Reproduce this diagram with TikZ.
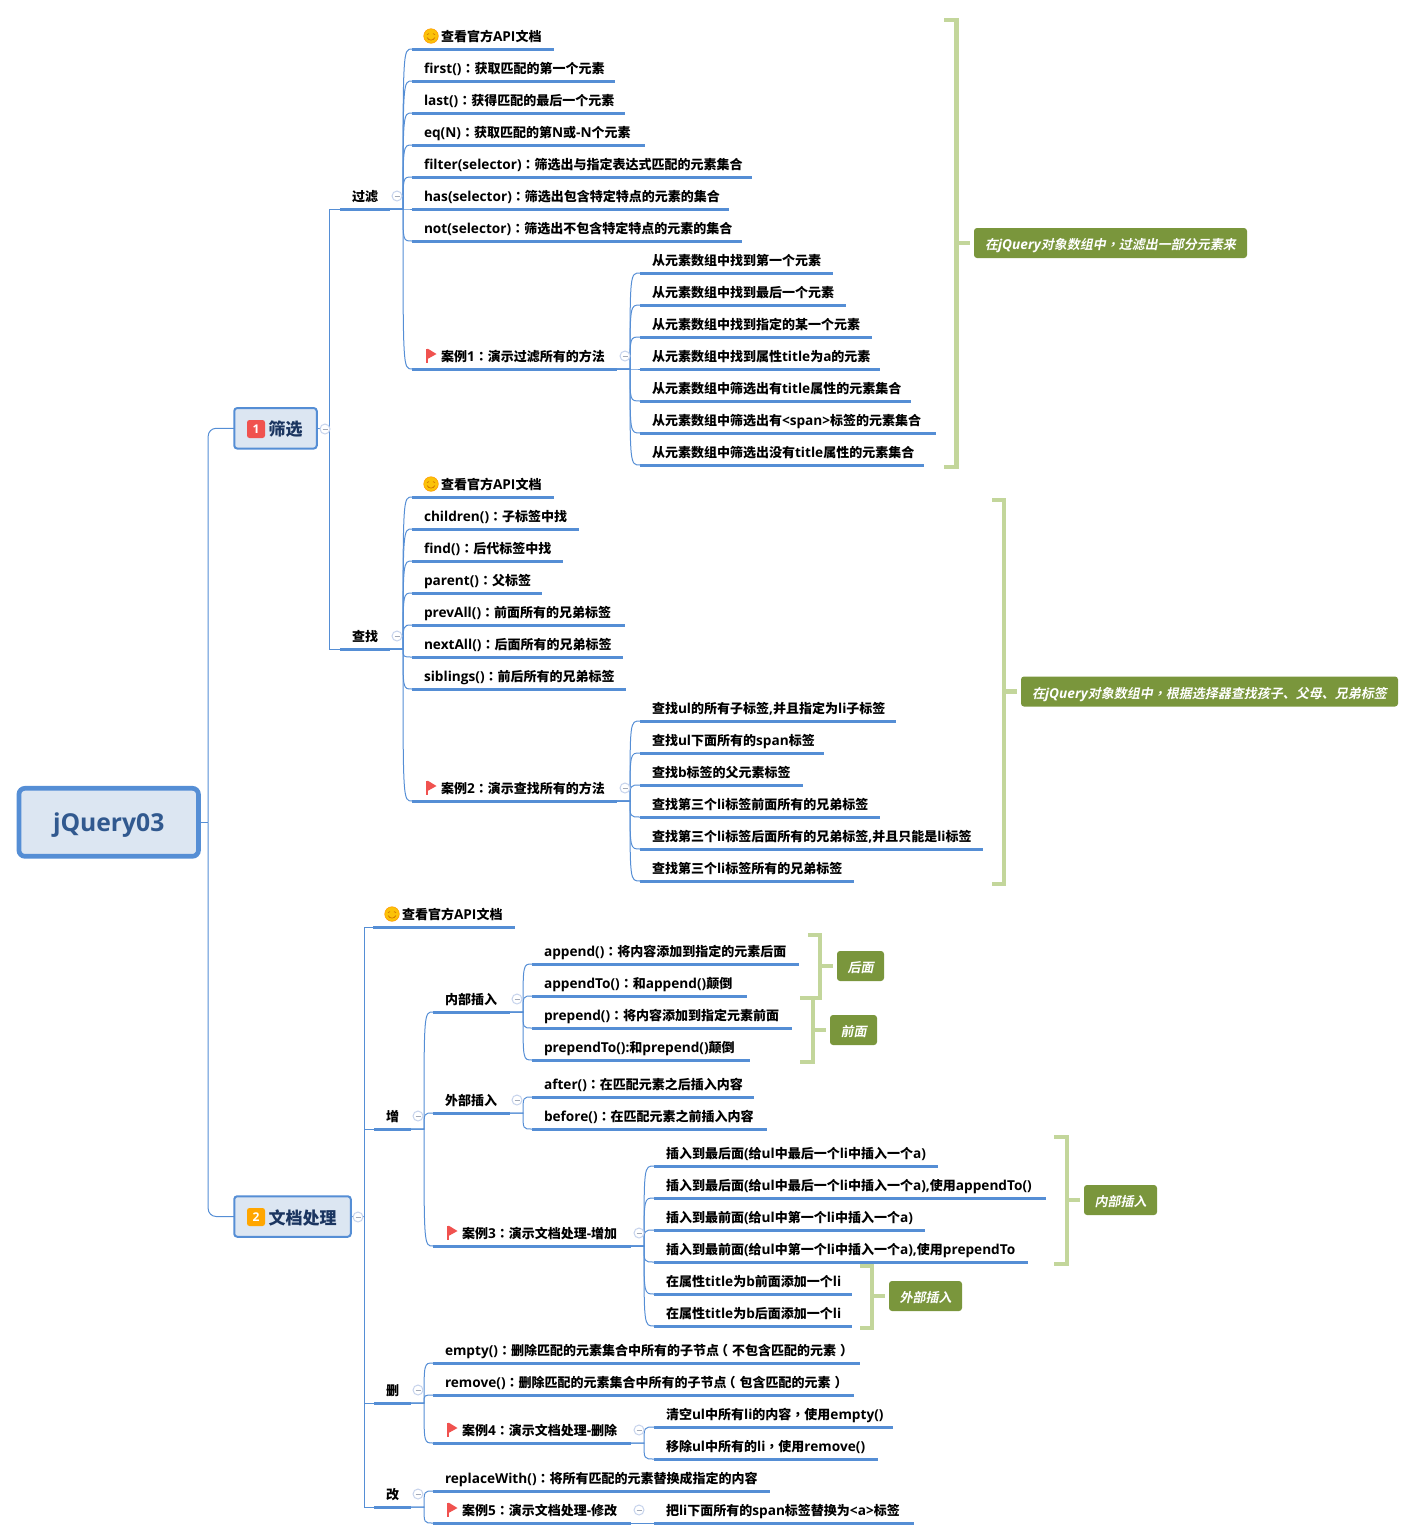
\documentclass[tikz,border=0pt]{standalone}
\usepackage{fontspec}
\setmainfont[Scale=1.05]{Open Sans}
\newfontfamily\cjkfont[ItalicFont={Noto Sans CJK SC},ItalicFeatures={FakeSlant=0.2},
  BoldItalicFont={Noto Sans CJK SC Bold},BoldItalicFeatures={FakeSlant=0.2}]{Noto Sans CJK SC}
\newfontfamily\cjkpunct[ItalicFont={Noto Sans CJK TC},ItalicFeatures={FakeSlant=0.2},
  BoldItalicFont={Noto Sans CJK TC Bold},BoldItalicFeatures={FakeSlant=0.2}]{Noto Sans CJK TC}
% han characters go to the cjk family, full width marks to cjkpunct, the rest stays latin
\XeTeXinterchartokenstate=1
\chardef\cjkclass=20
\chardef\punctclass=21
\newcount\cjkpos
\newcommand{\cjkrange}[3]{\cjkpos=#1\relax
  \loop\XeTeXcharclass\cjkpos=#3\relax
  \ifnum\cjkpos<#2\relax\advance\cjkpos by 1\repeat}
\cjkrange{"3000}{"303F}{\cjkclass}
\cjkrange{"4E00}{"9FFF}{\cjkclass}
\cjkrange{"FF00}{"FFEF}{\punctclass}
\XeTeXinterchartoks 0 \cjkclass={\cjkfont}
\XeTeXinterchartoks 4095 \cjkclass={\cjkfont}
\XeTeXinterchartoks \cjkclass 0={\rmfamily}
\XeTeXinterchartoks 0 \punctclass={\cjkpunct}
\XeTeXinterchartoks \punctclass 0={\rmfamily}
\XeTeXinterchartoks \cjkclass \punctclass={\cjkpunct}
\XeTeXinterchartoks \punctclass \cjkclass={\cjkfont}
\newcommand{\pad}{\hspace*{17pt}}
\newcommand{\lpar}{\kern-4pt（\kern4pt}
\newcommand{\rpar}{\kern4pt）}
\definecolor{linkblue}{HTML}{558ED5}
\definecolor{paleblue}{HTML}{DCE6F2}
\definecolor{foldblue}{HTML}{C6D3EC}
\definecolor{leafgreen}{HTML}{C3D69B}
\definecolor{notegreen}{HTML}{7A963C}
\definecolor{flagred}{HTML}{F0524F}
\definecolor{rootink}{HTML}{31598F}
\definecolor{subink}{HTML}{1B3560}
\tikzset{
  conn/.style={draw=linkblue,line width=1pt},
  stem/.style={draw=linkblue,line width=3pt},
  fork/.style={to path={-- ++(13,0) coordinate (g) .. controls (g|-\tikztotarget) .. (\tikztotarget)}},
  trunk/.style={to path={-- ++(#1,0) |- (\tikztotarget)}},
  topic/.style={anchor=south west,outer sep=0pt,inner xsep=12pt,inner ysep=6.5pt,
    text width=#1pt-24pt,text height=12pt,text depth=1pt,
    font=\bfseries\fontsize{13}{15}\selectfont,
    append after command={(\tikzlastnode.south west) edge[stem] (\tikzlastnode.south east)}},
  sub/.style={draw=linkblue,line width=2pt,fill=paleblue,rounded corners=3pt,outer sep=0pt,
    minimum height=40.5pt,text=subink,text height=15pt,text depth=0pt,
    font=\bfseries\fontsize{17}{19}\selectfont},
  rootbox/.style={draw=linkblue,line width=4.7pt,fill=paleblue,rounded corners=6pt,outer sep=0pt,
    minimum width=179.5pt,minimum height=68pt,text=rootink,text height=18pt,text depth=0pt,
    font=\bfseries\fontsize{23.5}{28}\selectfont},
  badge/.style={rounded corners=2.5pt,minimum size=18pt,inner sep=0pt,text=white,
    font=\bfseries\fontsize{11.5}{14}\selectfont},
  fold/.style={circle,draw=foldblue,fill=white,line width=1pt,minimum size=10pt,inner sep=0pt,
    path picture={\draw[foldblue!70!black!80!white,line width=.8pt] (-2.5,0) -- (2.5,0);}},
  note/.style={fill=notegreen,rounded corners=3pt,minimum height=30pt,text=white,inner sep=0pt,
    text height=13pt,text depth=0pt,font=\bfseries\itshape\fontsize{13}{15}\selectfont},
  brace/.style={draw=leafgreen,line width=4.5pt},
  flagicon/.pic={
    \fill[flagred] (-5.5,-7.5) rectangle (-3.5,7);
    \fill[flagred] (-3.5,-7.5) -- (5.5,-2) -- (-3.5,3) -- cycle;},
  smileicon/.pic={
    \fill[yellow!55!orange,draw=orange!85!yellow,line width=.5pt] (0,0) circle (7.3);
    \draw[orange!80!black,line width=.6pt] (-4,-1.5) -- (-2,-2.3) (2,-2.3) -- (4,-1.5)
      (-4,1.5) .. controls (-2,5) and (2,5) .. (4,1.5);}
}
\begin{document}
\begin{tikzpicture}[x=1pt,y=-1pt]
   \useasboundingbox (0,0) rectangle (1414,1540);
   \node[rootbox] (root) at (108.7,822.3) {jQuery03};
   \node[sub,minimum width=82.5pt] (sx) at (275.5,428.3) {\hspace*{20pt}筛选};
   \node[sub,minimum width=116.5pt] (wd) at (292.5,1216.5) {\hspace*{20pt}文档处理};
   \node[badge,fill=flagred] (b1) at (256,429) {1};
   \node[badge,fill=orange!70!yellow] (b2) at (256,1217) {2};
   % filter branch
   \node[topic=50] (guolv) at (340,209) {过滤};
   \node[topic=142] (api1) at (412,49) {\pad 查看官方API文档};
   \node[topic=203] (first) at (412,81) {first()：获取匹配的第一个元素};
   \node[topic=213] (last) at (412,113) {last()：获得匹配的最后一个元素};
   \node[topic=233] (eq) at (412,145) {eq(N)：获取匹配的第N或-N个元素};
   \node[topic=340] (filter) at (412,177) {filter(selector)：筛选出与指定表达式匹配的元素集合};
   \node[topic=317] (has) at (412,209) {has(selector)：筛选出包含特定特点的元素的集合};
   \node[topic=330] (not) at (412,241) {not(selector)：筛选出不包含特定特点的元素的集合};
   \node[topic=205] (case1) at (412,369) {\pad 案例1：演示过滤所有的方法};
   \node[topic=193] (c1a) at (640,273) {从元素数组中找到第一个元素};
   \node[topic=206] (c1b) at (640,305) {从元素数组中找到最后一个元素};
   \node[topic=232] (c1c) at (640,337) {从元素数组中找到指定的某一个元素};
   \node[topic=240] (c1d) at (640,369) {从元素数组中找到属性title为a的元素};
   \node[topic=271] (c1e) at (640,401) {从元素数组中筛选出有title属性的元素集合};
   \node[topic=296] (c1f) at (640,433) {从元素数组中筛选出有<span>标签的元素集合};
   \node[topic=284] (c1g) at (640,465) {从元素数组中筛选出没有title属性的元素集合};
   % find branch
   \node[topic=50] (chazhao) at (340,649) {查找};
   \node[topic=142] (api2) at (412,497) {\pad 查看官方API文档};
   \node[topic=167] (children) at (412,529) {children()：子标签中找};
   \node[topic=151] (find) at (412,561) {find()：后代标签中找};
   \node[topic=130] (parent) at (412,593) {parent()：父标签};
   \node[topic=213] (prevall) at (412,625) {prevAll()：前面所有的兄弟标签};
   \node[topic=211] (nextall) at (412,657) {nextAll()：后面所有的兄弟标签};
   \node[topic=214] (siblings) at (412,689) {siblings()：前后所有的兄弟标签};
   \node[topic=205] (case2) at (412,801) {\pad 案例2：演示查找所有的方法};
   \node[topic=256] (c2a) at (640,721) {查找ul的所有子标签,并且指定为li子标签};
   \node[topic=184] (c2b) at (640,753) {查找ul下面所有的span标签};
   \node[topic=163] (c2c) at (640,785) {查找b标签的父元素标签};
   \node[topic=240] (c2d) at (640,817) {查找第三个li标签前面所有的兄弟标签};
   \node[topic=343] (c2e) at (640,849) {查找第三个li标签后面所有的兄弟标签,并且只能是li标签};
   \node[topic=214] (c2f) at (640,881) {查找第三个li标签所有的兄弟标签};
   % document branch
   \node[topic=142] (api3) at (373,927) {\pad 查看官方API文档};
   \node[topic=37] (zeng) at (374,1129) {增};
   \node[topic=37] (shan) at (374,1403) {删};
   \node[topic=37] (gai) at (374,1507) {改};
   \node[topic=77] (neibu) at (433,1012) {内部插入};
   \node[topic=77] (waibu) at (433,1113) {外部插入};
   \node[topic=198] (case3) at (433,1246) {\pad 案例3：演示文档处理-增加};
   \node[topic=267] (append) at (532,964) {append()：将内容添加到指定的元素后面};
   \node[topic=215] (appendto) at (532,996) {appendTo()：和append()颠倒};
   \node[topic=260] (prepend) at (532,1028) {prepend()：将内容添加到指定元素前面};
   \node[topic=218] (prependto) at (532,1060) {prependTo():和prepend()颠倒};
   \node[topic=222] (after) at (532,1097) {after()：在匹配元素之后插入内容};
   \node[topic=235] (before) at (532,1129) {before()：在匹配元素之前插入内容};
   \node[topic=284] (c3a) at (654,1166) {插入到最后面(给ul中最后一个li中插入一个a)};
   \node[topic=392] (c3b) at (654,1198) {插入到最后面(给ul中最后一个li中插入一个a),使用appendTo()};
   \node[topic=271] (c3c) at (654,1230) {插入到最前面(给ul中第一个li中插入一个a)};
   \node[topic=374] (c3d) at (654,1262) {插入到最前面(给ul中第一个li中插入一个a),使用prependTo};
   \node[topic=198] (c3e) at (654,1294) {在属性title为b前面添加一个li};
   \node[topic=198] (c3f) at (654,1326) {在属性title为b后面添加一个li};
   \node[topic=427] (empty) at (433,1363) {empty()：删除匹配的元素集合中所有的子节点\lpar 不包含匹配的元素\rpar};
   \node[topic=421] (remove) at (433,1395) {remove()：删除匹配的元素集合中所有的子节点\lpar 包含匹配的元素\rpar};
   \node[topic=198] (case4) at (433,1443) {\pad 案例4：演示文档处理-删除};
   \node[topic=239] (c4a) at (654,1427) {清空ul中所有li的内容，使用empty()};
   \node[topic=224] (c4b) at (654,1459) {移除ul中所有的li，使用remove()};
   \node[topic=337] (replace) at (433,1491) {replaceWith()：将所有匹配的元素替换成指定的内容};
   \node[topic=198] (case5) at (433,1523) {\pad 案例5：演示文档处理-修改};
   \node[topic=260] (c5a) at (654,1523) {把li下面所有的span标签替换为<a>标签};
   % icons
   \pic at ([shift={(19,-13)}]api1.south west) {smileicon};
   \pic at ([shift={(19,-13)}]api2.south west) {smileicon};
   \pic at ([shift={(19,-13)}]api3.south west) {smileicon};
   \pic at ([shift={(19,-13)}]case1.south west) {flagicon};
   \pic at ([shift={(19,-13)}]case2.south west) {flagicon};
   \pic at ([shift={(19,-13)}]case3.south west) {flagicon};
   \pic at ([shift={(19,-13)}]case4.south west) {flagicon};
   \pic at ([shift={(19,-13)}]case5.south west) {flagicon};
   % connectors
   \draw[conn] (root.east) -- ++(9.7,0) coordinate (rootbus);
   \draw[conn,rounded corners=8pt] (rootbus) |- (sx.west);
   \draw[conn,rounded corners=8pt] (rootbus) |- (wd.west);
   \path[conn]
     (sx.east) edge[trunk=13] (guolv.south west)
     (sx.east) edge[trunk=13] (chazhao.south west)
     (wd.east) edge[trunk=14] (api3.south west)
     (wd.east) edge[trunk=14] (zeng.south west)
     (wd.east) edge[trunk=14] (shan.south west)
     (wd.east) edge[trunk=14] (gai.south west);
   \path[conn]
     (guolv.south east) edge[fork] (api1.south west)
     (guolv.south east) edge[fork] (first.south west)
     (guolv.south east) edge[fork] (last.south west)
     (guolv.south east) edge[fork] (eq.south west)
     (guolv.south east) edge[fork] (filter.south west)
     (guolv.south east) edge[fork] (has.south west)
     (guolv.south east) edge[fork] (not.south west)
     (guolv.south east) edge[fork] (case1.south west)
     (case1.south east) edge[fork] (c1a.south west)
     (case1.south east) edge[fork] (c1b.south west)
     (case1.south east) edge[fork] (c1c.south west)
     (case1.south east) edge[fork] (c1d.south west)
     (case1.south east) edge[fork] (c1e.south west)
     (case1.south east) edge[fork] (c1f.south west)
     (case1.south east) edge[fork] (c1g.south west)
     (chazhao.south east) edge[fork] (api2.south west)
     (chazhao.south east) edge[fork] (children.south west)
     (chazhao.south east) edge[fork] (find.south west)
     (chazhao.south east) edge[fork] (parent.south west)
     (chazhao.south east) edge[fork] (prevall.south west)
     (chazhao.south east) edge[fork] (nextall.south west)
     (chazhao.south east) edge[fork] (siblings.south west)
     (chazhao.south east) edge[fork] (case2.south west)
     (case2.south east) edge[fork] (c2a.south west)
     (case2.south east) edge[fork] (c2b.south west)
     (case2.south east) edge[fork] (c2c.south west)
     (case2.south east) edge[fork] (c2d.south west)
     (case2.south east) edge[fork] (c2e.south west)
     (case2.south east) edge[fork] (c2f.south west)
     (zeng.south east) edge[fork] (neibu.south west)
     (zeng.south east) edge[fork] (waibu.south west)
     (zeng.south east) edge[fork] (case3.south west)
     (neibu.south east) edge[fork] (append.south west)
     (neibu.south east) edge[fork] (appendto.south west)
     (neibu.south east) edge[fork] (prepend.south west)
     (neibu.south east) edge[fork] (prependto.south west)
     (waibu.south east) edge[fork] (after.south west)
     (waibu.south east) edge[fork] (before.south west)
     (case3.south east) edge[fork] (c3a.south west)
     (case3.south east) edge[fork] (c3b.south west)
     (case3.south east) edge[fork] (c3c.south west)
     (case3.south east) edge[fork] (c3d.south west)
     (case3.south east) edge[fork] (c3e.south west)
     (case3.south east) edge[fork] (c3f.south west)
     (shan.south east) edge[fork] (empty.south west)
     (shan.south east) edge[fork] (remove.south west)
     (shan.south east) edge[fork] (case4.south west)
     (case4.south east) edge[fork] (c4a.south west)
     (case4.south east) edge[fork] (c4b.south west)
     (gai.south east) edge[fork] (replace.south west)
     (gai.south east) edge[fork] (case5.south west)
     (case5.south east) edge[fork] (c5a.south west);
   % fold marks
   \node[fold] (f1) at (325,429) {};
   \node[fold] (f2) at (397,196) {};
   \node[fold] (f3) at (625,356) {};
   \node[fold] (f4) at (397,636) {};
   \node[fold] (f5) at (625,788) {};
   \node[fold] (f6) at (358,1217) {};
   \node[fold] (f7) at (418,1116) {};
   \node[fold] (f8) at (517,999) {};
   \node[fold] (f9) at (517,1100) {};
   \node[fold] (f10) at (639,1233) {};
   \node[fold] (f11) at (418,1390) {};
   \node[fold] (f12) at (639,1430) {};
   \node[fold] (f13) at (418,1494) {};
   \node[fold] (f14) at (639,1510) {};
   % summaries
   \node[note,minimum width=273pt] (n1) at (1110.5,243) {在jQuery对象数组中，过滤出一部分元素来};
   \node[note,minimum width=377pt] (n2) at (1209.5,691.5) {在jQuery对象数组中，根据选择器查找孩子、父母、兄弟标签};
   \node[note,minimum width=47pt] (n3) at (860.5,966) {后面};
   \node[note,minimum width=47pt] (n4) at (853.5,1030) {前面};
   \node[note,minimum width=73pt] (n5) at (1120.5,1200) {内部插入};
   \node[note,minimum width=73pt] (n6) at (925.5,1296) {外部插入};
   \draw[brace] (944,20) -| (956.5,467) -- (944,467);
   \draw[brace,shorten >=4pt] (956.5,243) -- (n1.west);
   \draw[brace] (992,500) -| (1004,884) -- (992,884);
   \draw[brace,shorten >=4pt] (1004,691.5) -- (n2.west);
   \draw[brace] (808,935) -| (820,998) -- (808,998);
   \draw[brace,shorten >=4pt] (820,966) -- (n3.west);
   \draw[brace] (800,998) -| (813,1062) -- (800,1062);
   \draw[brace,shorten >=4pt] (813,1030) -- (n4.west);
   \draw[brace] (1054,1137) -| (1067,1264) -- (1054,1264);
   \draw[brace,shorten >=4pt] (1067,1200) -- (n5.west);
   \draw[brace] (860,1266) -| (872,1328) -- (860,1328);
   \draw[brace,shorten >=4pt] (872,1296) -- (n6.west);
\end{tikzpicture}
\end{document}
